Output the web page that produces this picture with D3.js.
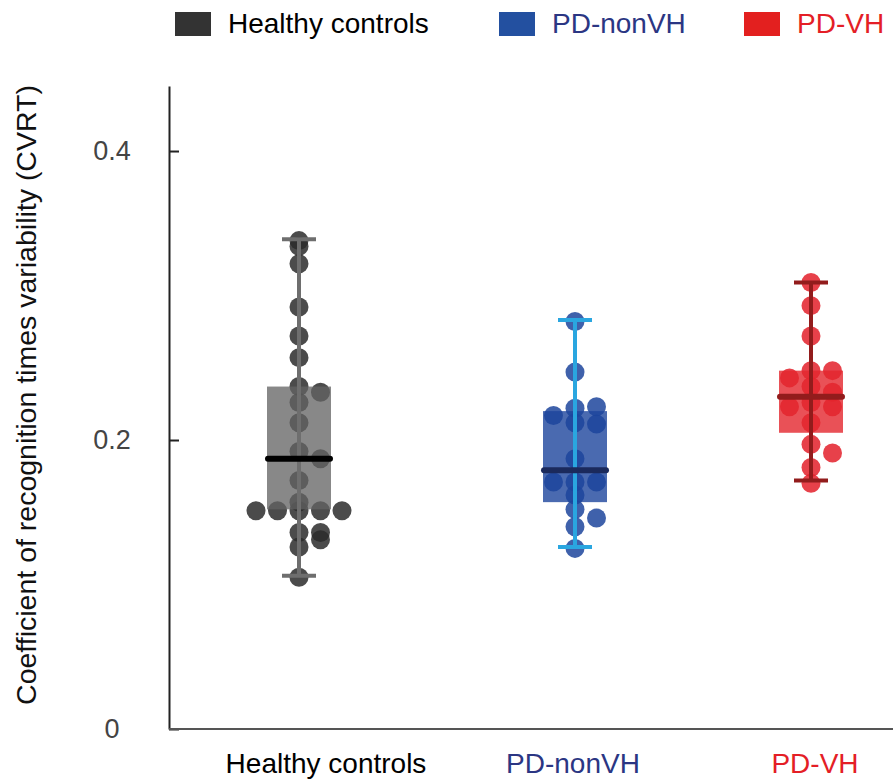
<!DOCTYPE html>
<html>
<head>
<meta charset="utf-8">
<script src="https://cdn.jsdelivr.net/npm/d3@7"></script>
<style>
  body { margin: 0; background: #fff; }
  svg { display: block; font-family: "Liberation Sans", Arial, sans-serif; }
</style>
</head>
<body>
<svg width="893" height="783"></svg>
<script>
// groups and box summary
var groups = ['Healthy controls', 'PD-nonVH', 'PD-VH'];
var whiskerLow  = [0.106, 0.126, 0.172];
var q1          = [0.152, 0.157, 0.205];
var median      = [0.187, 0.179, 0.230];
var q3          = [0.237, 0.220, 0.248];
var whiskerHigh = [0.339, 0.283, 0.309];

// individual subjects: value + swarm lane (-2..2)
var hcValues = [0.338, 0.334, 0.322, 0.292, 0.272, 0.257, 0.237, 0.233, 0.226, 0.212, 0.192, 0.187,
  0.172, 0.157, 0.151, 0.151, 0.151, 0.151, 0.151, 0.136, 0.136, 0.131, 0.126, 0.105];
var hcLanes  = [0, 0, 0, 0, 0, 0, 0, 1, 0, 0, 0, 1,
  0, 0, -2, -1, 0, 1, 2, 0, 1, 1, 0, 0];
var nonVhValues = [0.282, 0.247, 0.222, 0.223, 0.217, 0.212, 0.211, 0.187, 0.171, 0.171, 0.171,
  0.162, 0.152, 0.146, 0.140, 0.125];
var nonVhLanes  = [0, 0, 0, 1, -1, 0, 1, 0, -1, 0, 1,
  0, 0, 1, 0, 0];
var vhValues = [0.309, 0.293, 0.272, 0.248, 0.248, 0.243, 0.237, 0.233, 0.226, 0.223, 0.223,
  0.212, 0.197, 0.191, 0.181, 0.170];
var vhLanes  = [0, 0, 0, 0, 1, -1, 0, 1, 0, -1, 1,
  0, 0, 1, 0, 0];

var yTicks = [0, 0.2, 0.4];

var colors = {
  dot:     ['#2b2b2b', '#1d459c', '#e3202a'],
  box:     ['#636363', '#1d459c', '#e3262d'],
  whisker: ['#6e6e6e', '#2aa6e0', '#921c1c'],
  median:  ['#000000', '#1b2a5c', '#921c1c'],
  legend:  ['#333333', '#2350a0', '#e3201f'],
  label:   ['#000000', '#2b3683', '#e41e26']
};

var svg = d3.select('svg'),
  w = +svg.attr('width'),
  h = +svg.attr('height');

var axisX = 169;
var y = d3.scaleLinear().domain([0, 0.445]).range([729, 86]);
var x = d3.scaleOrdinal().domain(groups).range([299, 575, 811]);
var labelX = d3.scaleOrdinal().domain(groups).range([326, 573, 815]);
var lane = d3.scaleLinear().domain([-1, 1]).range([-21.5, 21.5]);
var boxW = 64, capW = 34;

var points = [];
[hcValues, nonVhValues, vhValues].forEach(function(vals, gi) {
  var lanes = [hcLanes, nonVhLanes, vhLanes][gi];
  vals.forEach(function(v, i) { points.push({g: gi, v: v, lane: lanes[i]}); });
});

var stats = groups.map(function(name, i) {
  return {name: name, i: i, lo: whiskerLow[i], q1: q1[i], med: median[i], q3: q3[i], hi: whiskerHigh[i]};
});

/** dots first, box sits over them **/
svg.append('g').selectAll('circle')
  .data(points)
  .enter().append('circle')
  .attr('cx', function(d) { return x(groups[d.g]) + lane(d.lane); })
  .attr('cy', function(d) { return y(d.v); })
  .attr('r', 9.5)
  .attr('fill', function(d) { return colors.dot[d.g]; })
  .attr('fill-opacity', 0.85);

var box = svg.append('g').selectAll('g')
  .data(stats)
  .enter().append('g');

box.append('rect')
  .attr('x', function(d) { return x(d.name) - boxW / 2; })
  .attr('y', function(d) { return y(d.q3); })
  .attr('width', boxW)
  .attr('height', function(d) { return y(d.q1) - y(d.q3); })
  .attr('fill', function(d) { return colors.box[d.i]; })
  .attr('fill-opacity', function(d) { return d.i === 0 ? 0.76 : 0.8; });

box.append('line')
  .attr('x1', function(d) { return x(d.name); })
  .attr('x2', function(d) { return x(d.name); })
  .attr('y1', function(d) { return y(d.hi); })
  .attr('y2', function(d) { return y(d.lo); })
  .attr('stroke', function(d) { return colors.whisker[d.i]; })
  .attr('stroke-width', 4);

['hi', 'lo'].forEach(function(k) {
  box.append('line')
    .attr('x1', function(d) { return x(d.name) - capW / 2; })
    .attr('x2', function(d) { return x(d.name) + capW / 2; })
    .attr('y1', function(d) { return y(d[k]); })
    .attr('y2', function(d) { return y(d[k]); })
    .attr('stroke', function(d) { return colors.whisker[d.i]; })
    .attr('stroke-width', 4);
});

box.append('line')
  .attr('x1', function(d) { return x(d.name) - boxW / 2 + 1; })
  .attr('x2', function(d) { return x(d.name) + boxW / 2 - 1; })
  .attr('y1', function(d) { return y(d.med); })
  .attr('y2', function(d) { return y(d.med); })
  .attr('stroke', function(d) { return colors.median[d.i]; })
  .attr('stroke-width', 6)
  .attr('stroke-linecap', 'round');

/** axes **/
var yAxis = d3.axisLeft(y)
  .tickValues(yTicks)
  .tickSize(-10)
  .tickSizeOuter(0)
  .tickFormat(function(d) { return d === 0 ? '0' : d.toFixed(1); });

var gy = svg.append('g')
  .attr('transform', 'translate(' + axisX + ',0)')
  .call(yAxis);
gy.select('.domain').attr('stroke', '#222').attr('stroke-width', 2);
gy.selectAll('.tick line').attr('stroke', '#222').attr('stroke-width', 2);
gy.selectAll('.tick text')
  .attr('x', -57)
  .attr('text-anchor', 'middle')
  .attr('font-size', 27)
  .attr('font-family', '"Liberation Sans", Arial, sans-serif')
  .attr('fill', '#444');

svg.append('line')
  .attr('x1', axisX).attr('x2', w)
  .attr('y1', y(0)).attr('y2', y(0))
  .attr('stroke', '#555').attr('stroke-width', 2);

svg.append('g').selectAll('text')
  .data(groups)
  .enter().append('text')
  .attr('x', function(d) { return labelX(d); })
  .attr('y', 773)
  .attr('text-anchor', 'middle')
  .attr('font-size', 28)
  .attr('fill', function(d, i) { return colors.label[i]; })
  .text(function(d) { return d; });

svg.append('text')
  .attr('transform', 'translate(36,' + 395 + ') rotate(-90)')
  .attr('text-anchor', 'middle')
  .attr('font-size', 28.5)
  .attr('fill', '#111')
  .text('Coefficient of recognition times variability (CVRT)');

/** legend **/
var legendX = d3.scaleOrdinal().domain(groups).range([175, 499, 744]);
var lg = svg.append('g').selectAll('g')
  .data(groups)
  .enter().append('g')
  .attr('transform', function(d) { return 'translate(' + legendX(d) + ',12)'; });

lg.append('rect')
  .attr('width', 36).attr('height', 24)
  .attr('fill', function(d, i) { return colors.legend[i]; });

lg.append('text')
  .attr('x', 53)
  .attr('y', 21)
  .attr('font-size', 28)
  .attr('fill', function(d, i) { return colors.label[i]; })
  .text(function(d) { return d; });
</script>
</body>
</html>
